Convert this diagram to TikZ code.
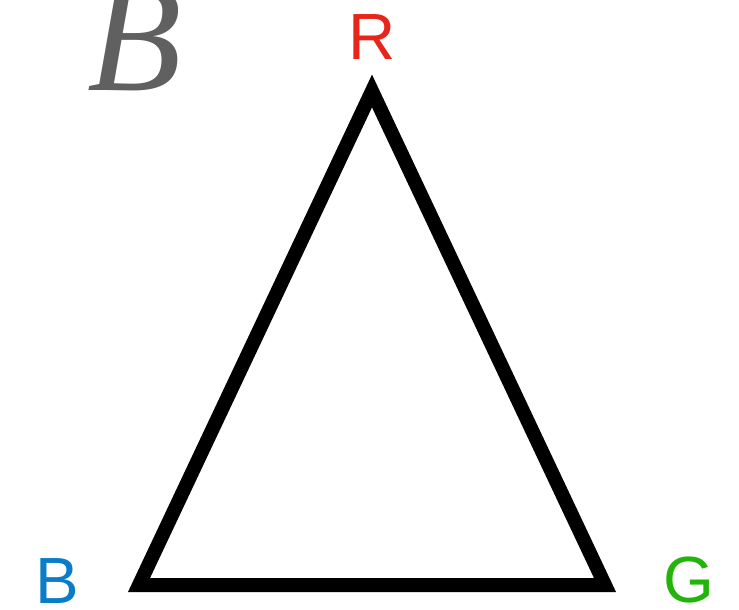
\documentclass[tikz,border=0pt]{standalone}
\usepackage{fontspec}
\setmainfont{Liberation Serif}
\setsansfont{Liberation Sans}
\definecolor{labred}{HTML}{E8251B}
\definecolor{labblue}{HTML}{0A7CC8}
\definecolor{labgreen}{HTML}{22B40A}
\definecolor{labgray}{HTML}{606060}
\tikzset{
  corner/.style={font=\sffamily\fontsize{49}{49}\selectfont, anchor=base, inner sep=0pt},
  edge/.style={line width=10.5pt, line join=miter, black},
}
\begin{document}
\begin{tikzpicture}[x=0.75pt, y=-0.75pt]
        \useasboundingbox (0,0) rectangle (739,610);
        \coordinate (top) at (372,91);
        \coordinate (left) at (139,585);
        \coordinate (right) at (605,585);
        \draw[edge] (top) -- (left) -- (right) -- cycle;
        \node[corner, text=labred] (r) at (372,60) {R};
        \node[corner, text=labblue] (b) at (57,603) {B};
        \node[corner, text=labgreen] (g) at (689,602) {G};
        \node[anchor=base, inner sep=0pt, text=labgray,
              font=\itshape\fontsize{116}{116}\selectfont] (name) at (135,90) {B};
      \end{tikzpicture}
\end{document}
